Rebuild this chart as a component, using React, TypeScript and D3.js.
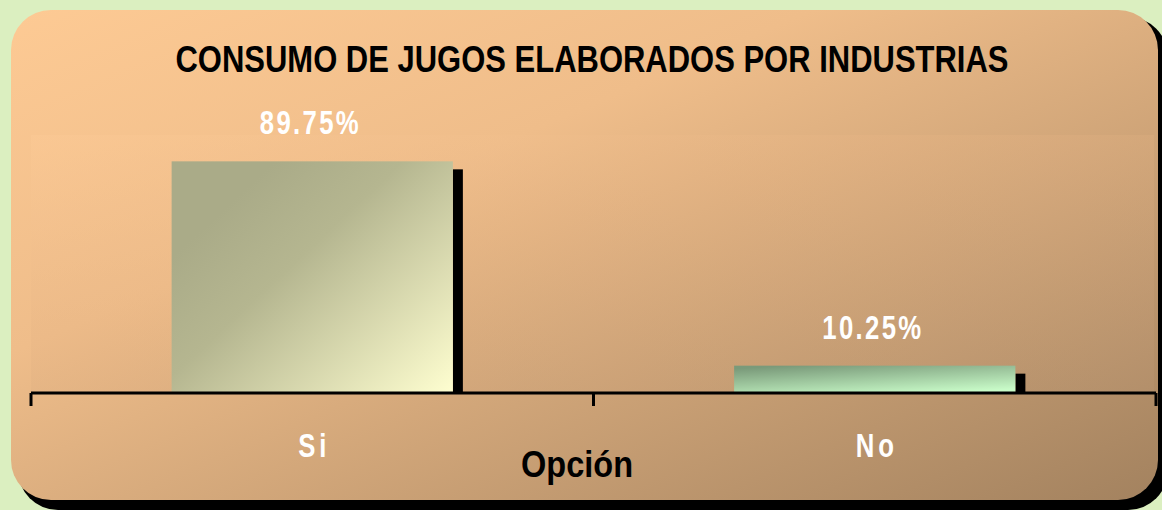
import React from "react";
import * as d3 from "d3";

const categories = ["Si", "No"];
const values = [89.75, 10.25];
const valueLabels = ["89.75%", "10.25%"];
const title = "CONSUMO DE JUGOS ELABORADOS POR INDUSTRIAS";
const axisTitle = "Opción";

const W = 1162;
const H = 510;
const plot = { left: 31, right: 1156, top: 135, bottom: 393 };
const narrow = "'Liberation Sans Narrow', 'Liberation Sans', Arial";

function NarrowText(props: { x: number; y: number; text: string; size: number; spacing: number; sx: number; fill: string }) {
  const { x, y, text, size, spacing, sx, fill } = props;
  return (
    <text
      transform={`translate(${x},${y}) scale(${sx},1)`}
      x={spacing / 2}
      y={0}
      textAnchor="middle"
      fontFamily={narrow}
      fontWeight="bold"
      fontSize={size}
      letterSpacing={spacing}
      fill={fill}
    >
      {text}
    </text>
  );
}

export default function App() {
  const x = d3.scaleBand<string>().domain(categories).range([plot.left, plot.right]).paddingInner(0).paddingOuter(0);
  const y = d3.scaleLinear().domain([0, 100]).range([plot.bottom - 1, plot.top]);
  const bw = x.bandwidth() * 0.5;
  const gradIds = ["gSi", "gNo"];
  const ticks = [plot.left, ...categories.map((c) => (x(c) as number) + x.bandwidth())];
  return (
    <div style={{ position: "absolute", left: 0, top: 0, width: W, height: H }}>
      <svg width={W} height={H} style={{ display: "block" }}>
        <defs>
          <linearGradient id="panelG" x1="0" y1="0" x2="1" y2="1">
            <stop offset="0" stopColor="#fdca94" />
            <stop offset="0.35" stopColor="#efbd8a" />
            <stop offset="1" stopColor="#a3825f" />
          </linearGradient>
          <linearGradient id="plotG" x1="0" y1="0" x2="1" y2="1">
            <stop offset="0" stopColor="#fecc98" />
            <stop offset="0.4" stopColor="#e6b484" />
            <stop offset="1" stopColor="#b89572" />
          </linearGradient>
          <linearGradient id="gSi" x1="0.15" y1="0.25" x2="1" y2="1">
            <stop offset="0" stopColor="#aaab88" />
            <stop offset="0.3" stopColor="#b5b690" />
            <stop offset="1" stopColor="#fefed0" />
          </linearGradient>
          <linearGradient id="gNo" x1="0.2" y1="0" x2="0.8" y2="1">
            <stop offset="0" stopColor="#7a9a7a" />
            <stop offset="1" stopColor="#c8fbc8" />
          </linearGradient>
        </defs>
        <rect x={0} y={0} width={W} height={H} fill="#dbefc0" />
        <rect x={18} y={17} width={1150} height={493} rx={40} ry={40} fill="#000" />
        <rect x={11} y={10} width={1147} height={490} rx={40} ry={40} fill="url(#panelG)" />
        <rect x={plot.left} y={plot.top} width={plot.right - plot.left - 2} height={plot.bottom - plot.top} fill="url(#plotG)" opacity={0.35} />
        <text x={592} y={72} textAnchor="middle" fontFamily={narrow} fontWeight="bold" fontSize={36} textLength={833} lengthAdjust="spacingAndGlyphs" fill="#000">
          {title}
        </text>
        {categories.map((c, i) => {
          const cx = (x(c) as number) + x.bandwidth() / 2;
          const bx = (x(c) as number) + x.bandwidth() * 0.25;
          const top = y(values[i]);
          const bottom = y(0);
          return (
            <g key={c}>
              <rect x={bx + bw} y={top + 8} width={10} height={bottom - top - 8} fill="#000" />
              <rect x={bx} y={top} width={bw} height={bottom - top} fill={`url(#${gradIds[i]})`} />
              <NarrowText x={cx - 3} y={top - 27} text={valueLabels[i]} size={33} spacing={3} sx={0.78} fill="#fff" />
              <NarrowText x={cx} y={457} text={c} size={33} spacing={5} sx={0.78} fill="#fff" />
            </g>
          );
        })}
        <line x1={plot.left} x2={plot.right} y1={plot.bottom} y2={plot.bottom} stroke="#000" strokeWidth={3} />
        {ticks.map((t, i) => (
          <line key={i} x1={t} x2={t} y1={plot.bottom} y2={plot.bottom + 13} stroke="#000" strokeWidth={3} />
        ))}
        <text x={577} y={477} textAnchor="middle" fontFamily={narrow} fontWeight="bold" fontSize={37} textLength={112} lengthAdjust="spacingAndGlyphs" fill="#000">
          {axisTitle}
        </text>
      </svg>
    </div>
  );
}
